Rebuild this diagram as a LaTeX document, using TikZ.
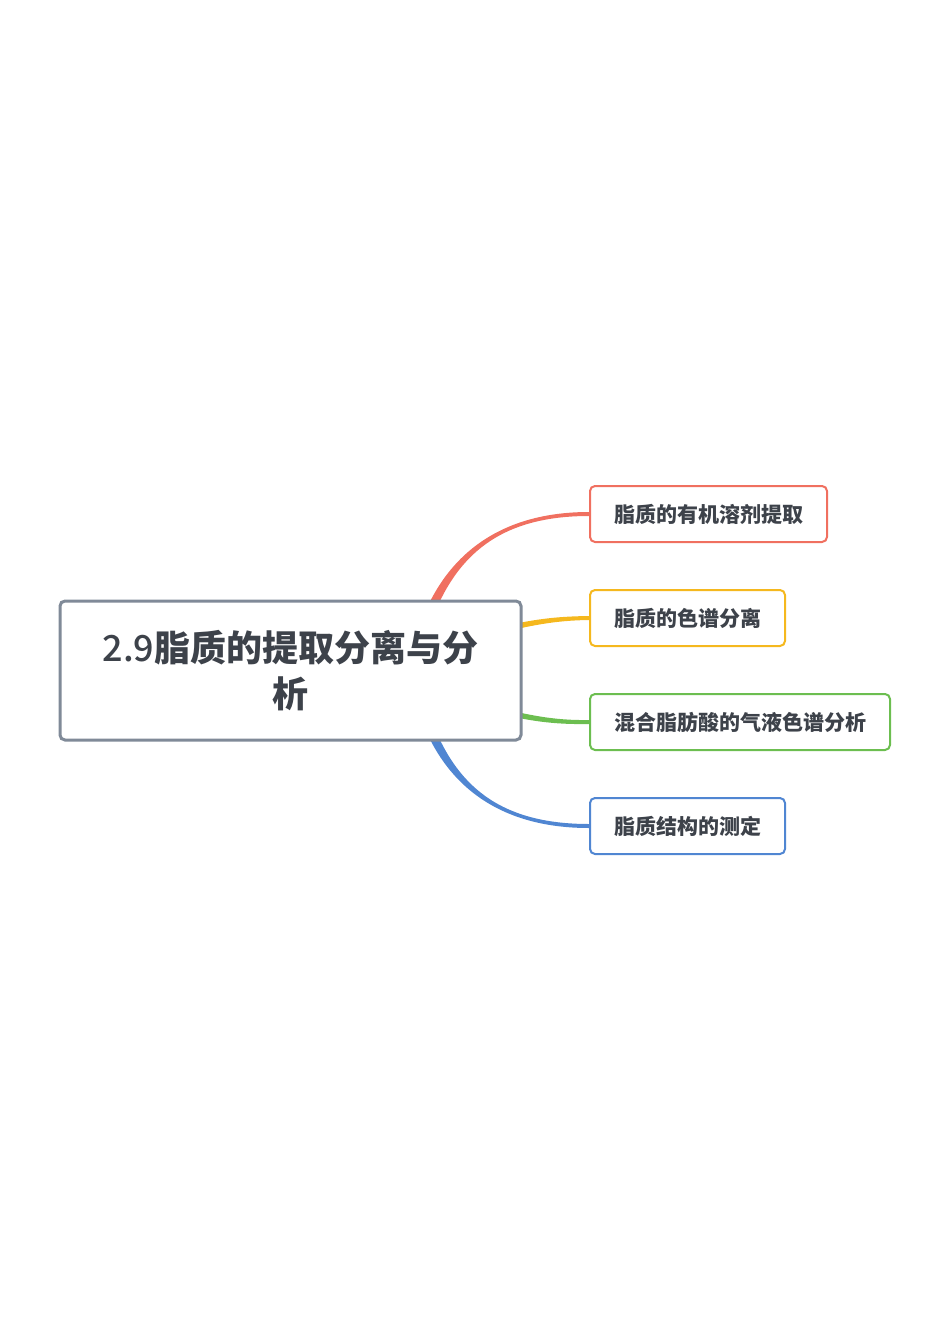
\documentclass[tikz,border=0pt]{standalone}
\usepackage{fontspec}
\newfontfamily\cjk{Noto Sans CJK SC}
\newfontfamily\cjkmed{Noto Sans CJK SC Medium}
\usetikzlibrary{
	calc,
	positioning,
	backgrounds,
}
\definecolor{textgray}{RGB}{61,66,74}
\definecolor{rootgray}{RGB}{128,138,152}
\definecolor{redline}{RGB}{240,112,96}
\definecolor{yellowline}{RGB}{245,184,30}
\definecolor{greenline}{RGB}{108,190,80}
\definecolor{blueline}{RGB}{80,134,210}
\tikzset{root node/.style={
	draw=rootgray,
	fill=white,
	line width=3pt,
	rounded corners=5pt,
	minimum width=461pt,
	minimum height=139pt,
	align=center,
	text=textgray,
	font=\cjk\bfseries\fontsize{36pt}{46pt}\selectfont,
},
branch node/.style={
	draw=#1,
	fill=white,
	line width=2pt,
	rounded corners=5pt,
	anchor=west,
	minimum height=56pt,
	inner xsep=24pt,
	text=textgray,
	font=\cjk\bfseries\fontsize{21pt}{25pt}\selectfont,
}}
% tapered connector: colour, start, start half-width, control 1, control 2, target node
\newcommand\branch[6]{%
\fill[#1] ($#2+#3$) .. controls ($#4+#3$) and ($#5+(0,-2)$) .. ($(#6.west)+(0,-2)$)
	-- ($(#6.west)+(0,2)$) .. controls ($#5+(0,2)$) and ($#4-#3$) .. ($#2-#3$) -- cycle;}

\begin{document}
\begin{tikzpicture}[x=1pt,y=-1pt]
\useasboundingbox (0,0) rectangle (950,1343);

\node(root)[root node] at (290.5,670.5) {{\cjkmed\mdseries 2.9}脂质的提取分离与分\\析};

\node(b1)[branch node=redline] at (589,514) {脂质的有机溶剂提取};
\node(b2)[branch node=yellowline] at (589,618) {脂质的色谱分离};
\node(b3)[branch node=greenline] at (589,722) {混合脂肪酸的气液色谱分析};
\node(b4)[branch node=blueline] at (589,826) {脂质结构的测定};

\begin{scope}[on background layer]
\branch{redline}{(425,625)}{(-5,0)}{(450,555)}{(500,514)}{b1}
\branch{yellowline}{(480,635)}{(0,-3)}{(530,622)}{(555,618.5)}{b2}
\branch{greenline}{(480,706)}{(0,-3)}{(530,719)}{(555,722.5)}{b3}
\branch{blueline}{(425,716)}{(5,0)}{(450,786)}{(500,826)}{b4}
\end{scope}

\end{tikzpicture}
\end{document}
